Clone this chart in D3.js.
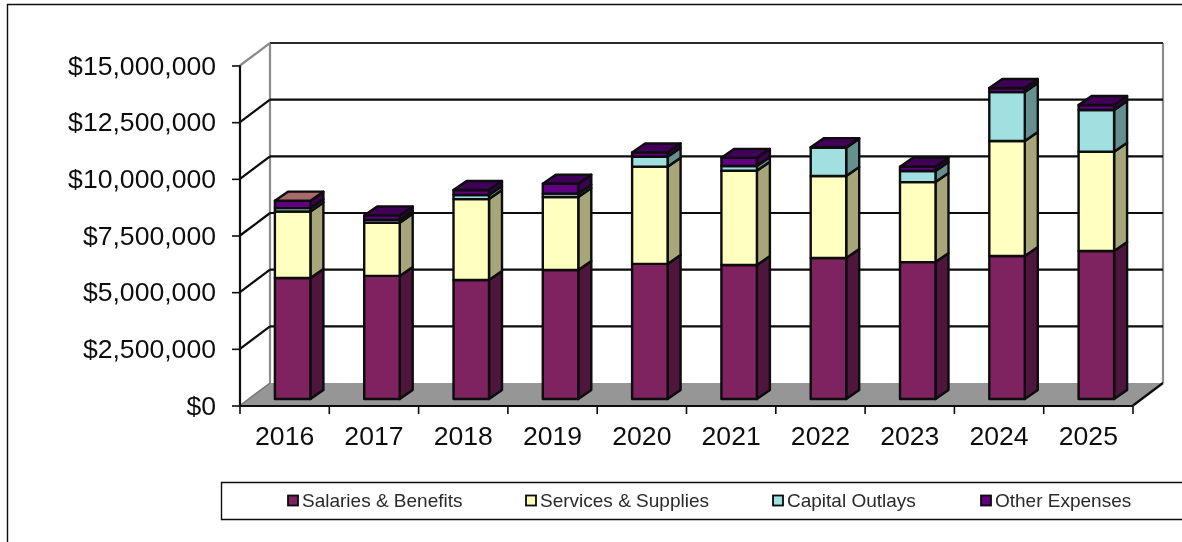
<!DOCTYPE html>
<html>
<head>
<meta charset="utf-8">
<script src="https://cdn.jsdelivr.net/npm/d3@7"></script>
<style>
html,body{margin:0;padding:0;background:#fff;overflow:hidden}
text{font-family:"Liberation Sans",Arial,sans-serif}
</style>
</head>
<body>
<svg id="chart" width="1182" height="542"></svg>
<script>
const years = ["2016","2017","2018","2019","2020","2021","2022","2023","2024","2025"];
const salaries = [5340000,5430000,5250000,5690000,5960000,5910000,6220000,6040000,6310000,6530000];
const services = [2930000,2340000,3570000,3220000,4290000,4160000,3620000,3530000,5070000,4380000];
const capital = [150000,130000,180000,150000,440000,210000,1240000,490000,2160000,1840000];
const other = [330000,200000,220000,440000,190000,360000,30000,190000,180000,220000];
const seriesNames = ["Salaries & Benefits","Services & Supplies","Capital Outlays","Other Expenses"];
const seriesValues = [salaries,services,capital,other];
const frontColors = ["#7f2060","#ffffc0","#a0e0e0","#600080"];
const sideColors = ["#50143d","#a6a67a","#669090","#3d0052"];
const tickValues = [0,2500000,5000000,7500000,10000000,12500000,15000000];
const legendTextX = [302,540,787,995];

const svg = d3.select("#chart");
const ink = "#0a0a0a";
const x = d3.scaleBand().domain(years).range([240,1133]);
const y = d3.scaleLinear().domain([0,15000000]).range([405.5,65.5]);
const wall = {dx:30, dy:-22.5};
const barShift = {dx:8, dy:-6.5};
const barDepth = {dx:13, dy:-9};
const barWidth = 35.5;
const fmt = d3.format("$,");

const defs = svg.append("defs");
defs.append("filter").attr("id","soft").attr("x","0").attr("y","0").attr("width","100%").attr("height","100%")
  .append("feGaussianBlur").attr("stdDeviation",0.45);

const root = svg.append("g").attr("filter","url(#soft)");
root.append("rect").attr("width",1182).attr("height",542).attr("fill","#fff");
const pts = a => a.map(p=>p.join(",")).join(" ");

// outer frame
root.append("path").attr("d","M7.5,542V4.5H1182").attr("fill","none").attr("stroke",ink).attr("stroke-width",1.4);

// floor
const x0 = x.range()[0], x1 = x.range()[1], y0 = y(0);
root.append("polygon").attr("fill","#969696")
  .attr("points",pts([[x0,y0],[x0+wall.dx,y0+wall.dy],[x1+wall.dx,y0+wall.dy],[x1,y0]]));

// back wall edges
root.append("path").attr("fill","none").attr("stroke","#8c8c8c").attr("stroke-width",2.2)
  .attr("d",`M${x0+wall.dx},${y(15000000)+wall.dy}V${y0+wall.dy}M${x1+wall.dx},${y(15000000)+wall.dy}V${y0+wall.dy}`);
root.append("path").attr("fill","none").attr("stroke",ink).attr("stroke-width",2.2)
  .attr("d",`M${x1+wall.dx},${y0+wall.dy}L${x1},${y0}`);

// gridlines
const gridTicks = tickValues.filter(d=>d>0);
root.selectAll(".grid").data(gridTicks).join("path")
  .attr("class","grid").attr("fill","none")
  .attr("stroke",d=>d===15000000?"#2a2a2a":ink).attr("stroke-width",2.2)
  .attr("d",d=>`M${x0+wall.dx},${y(d)+wall.dy}H${x1+wall.dx}`);
root.selectAll(".gridDiag").data(gridTicks).join("path")
  .attr("class","gridDiag").attr("fill","none")
  .attr("stroke",d=>d===15000000?"#8c8c8c":ink).attr("stroke-width",2.2)
  .attr("d",d=>`M${x0},${y(d)}L${x0+wall.dx},${y(d)+wall.dy}`);
root.append("path").attr("fill","none").attr("stroke","#777").attr("stroke-width",1.5)
  .attr("d",`M${x0},${y0}L${x0+wall.dx},${y0+wall.dy}`);

// bars
const barsG = root.append("g");
years.forEach((yr,i)=>{
  const g = barsG.append("g");
  const left = x(yr)+x.bandwidth()/2+barShift.dx-barWidth/2;
  const right = left+barWidth;
  let cum = 0;
  let topY = 0;
  seriesValues.forEach((vals,s)=>{
    const yb = y(cum)+barShift.dy;
    cum += vals[i];
    const yt = y(cum)+barShift.dy;
    topY = yt;
    g.append("polygon").attr("fill",sideColors[s]).attr("stroke",ink).attr("stroke-width",2.4).attr("stroke-linejoin","round")
      .attr("points",pts([[right,yb],[right+barDepth.dx,yb+barDepth.dy],[right+barDepth.dx,yt+barDepth.dy],[right,yt]]));
    g.append("polygon").attr("fill",frontColors[s]).attr("stroke",ink).attr("stroke-width",2.4).attr("stroke-linejoin","round")
      .attr("points",pts([[left,yb],[right,yb],[right,yt],[left,yt]]));
  });
  g.append("polygon").attr("fill",i===0?"#a86a6c":"#400058").attr("stroke",ink).attr("stroke-width",2.4).attr("stroke-linejoin","round")
    .attr("points",pts([[left,topY],[right,topY],[right+barDepth.dx,topY+barDepth.dy],[left+barDepth.dx,topY+barDepth.dy]]));
});

// axes
const axisY = d3.axisLeft(y).tickValues(tickValues).tickFormat(fmt).tickSize(8).tickPadding(16);
const gy = root.append("g").attr("transform",`translate(${x0},0)`).call(axisY);
gy.select(".domain").attr("d",`M0,${y(15000000)}V${y0}`).attr("stroke",ink).attr("stroke-width",2.2);
gy.selectAll(".tick line").attr("stroke",ink).attr("stroke-width",1.6);
gy.selectAll("text").attr("font-size",26.6).attr("fill","#111").attr("dy","0.33em").style("font-family",'"Liberation Sans",Arial,sans-serif');

const axisX = d3.axisBottom(x).tickSize(0).tickPadding(20);
const gx = root.append("g").attr("transform",`translate(0,${y0+0.5})`).call(axisX);
gx.select(".domain").attr("d",`M${x0},0H${x1}`).attr("stroke",ink).attr("stroke-width",2.2);
gx.selectAll("text").attr("font-size",26.6).attr("fill","#111").style("font-family",'"Liberation Sans",Arial,sans-serif');
const edges = years.map(d=>x(d)).concat([x1]);
gx.selectAll(".edge").data(edges).join("line").attr("class","edge")
  .attr("x1",d=>d).attr("x2",d=>d).attr("y1",0).attr("y2",8).attr("stroke",ink).attr("stroke-width",1.6);

// legend
const lg = root.append("g");
lg.append("path").attr("d","M1182,482.5H221.5V519.5H1182").attr("fill","#fff").attr("stroke",ink).attr("stroke-width",1.4);
seriesNames.forEach((n,s)=>{
  lg.append("rect").attr("x",legendTextX[s]-14).attr("y",495.5).attr("width",10).attr("height",10)
    .attr("fill",frontColors[s]).attr("stroke",ink).attr("stroke-width",1.8);
  lg.append("text").attr("x",legendTextX[s]).attr("y",507).attr("font-size",19).attr("fill","#2a2a2a").text(n);
});
</script>
</body>
</html>
